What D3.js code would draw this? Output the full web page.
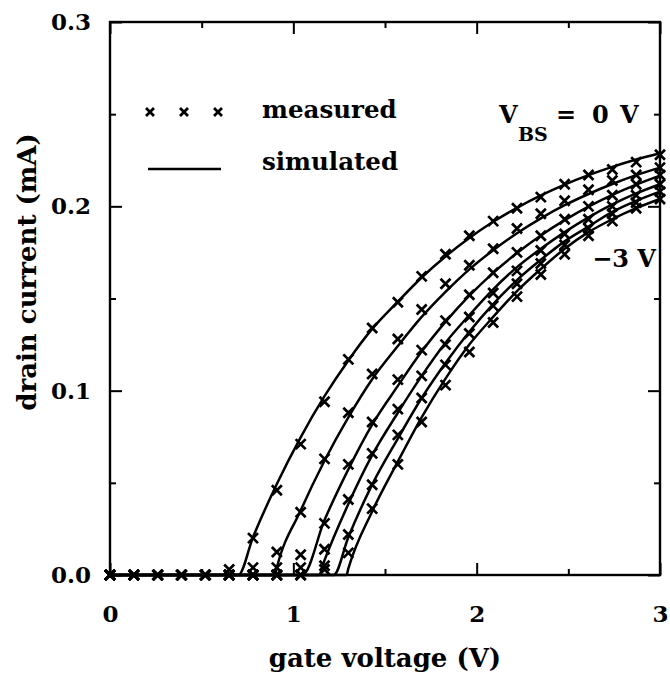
<!DOCTYPE html>
<html>
<head>
<meta charset="utf-8">
<script src="https://cdn.jsdelivr.net/npm/d3@7"></script>
<style>
  body { margin: 0; background: #fff; }
  text { font-family: "DejaVu Serif", serif; font-weight: bold; fill: #000; }
  .tick line { stroke: #000; stroke-width: 2; }
  .tick text { font-size: 23px; }
</style>
</head>
<body>
<svg width="670" height="691"></svg>
<script>
// gate voltage steps of the measurement (V)
const gateVoltage = [0, 0.13, 0.26, 0.39, 0.52, 0.65, 0.78, 0.91, 1.04, 1.17, 1.30, 1.43,
  1.57, 1.70, 1.83, 1.96, 2.09, 2.22, 2.35, 2.48, 2.61, 2.74, 2.87, 3.00];

// body bias of each curve, 0 V down to -3 V
const bodyBias = [0, -0.6, -1.2, -1.8, -2.4, -3.0];

// where each simulated curve leaves the axis (V)
const thresholds = [0.70, 0.90, 1.05, 1.14, 1.22, 1.29];

// measured drain current (mA)
const meas0 = [0, 0, 0, 0, 0, 0.003, 0.020, 0.046, 0.071, 0.094, 0.117, 0.134, 0.148, 0.162, 0.174, 0.184, 0.192, 0.199, 0.205, 0.212, 0.217, 0.220, 0.224, 0.228];
const meas1 = [0, 0, 0, 0, 0, 0, 0.004, 0.0125, 0.034, 0.063, 0.088, 0.109, 0.128, 0.144, 0.158, 0.168, 0.177, 0.188, 0.196, 0.203, 0.209, 0.214, 0.217, 0.221];
const meas2 = [0, 0, 0, 0, 0, 0, 0, 0.004, 0.011, 0.028, 0.060, 0.083, 0.106, 0.122, 0.138, 0.152, 0.164, 0.175, 0.184, 0.193, 0.200, 0.206, 0.212, 0.217];
const meas3 = [0, 0, 0, 0, 0, 0, 0, 0, 0.004, 0.014, 0.041, 0.066, 0.090, 0.108, 0.125, 0.140, 0.153, 0.165, 0.176, 0.185, 0.193, 0.200, 0.206, 0.212];
const meas4 = [0, 0, 0, 0, 0, 0, 0, 0, 0, 0.005, 0.022, 0.049, 0.076, 0.096, 0.114, 0.131, 0.146, 0.158, 0.169, 0.179, 0.188, 0.196, 0.202, 0.208];
const meas5 = [0, 0, 0, 0, 0, 0, 0, 0, 0, 0.003, 0.012, 0.036, 0.060, 0.083, 0.103, 0.121, 0.137, 0.151, 0.163, 0.174, 0.184, 0.192, 0.199, 0.204];

// simulated drain current (mA)
const sim0 = [0, 0, 0, 0, 0, 0, 0.0205, 0.0494, 0.0747, 0.0970, 0.1164, 0.1335, 0.1483, 0.1614, 0.1728, 0.1828, 0.1916, 0.1992, 0.2059, 0.2118, 0.2169, 0.2214, 0.2254, 0.2288];
const sim1 = [0, 0, 0, 0, 0, 0, 0, 0.0040, 0.0350, 0.0620, 0.0855, 0.1062, 0.1242, 0.1400, 0.1536, 0.1658, 0.1762, 0.1854, 0.1935, 0.2006, 0.2067, 0.2121, 0.2169, 0.2210];
const sim2 = [0, 0, 0, 0, 0, 0, 0, 0, 0, 0.0298, 0.0573, 0.0816, 0.1026, 0.1212, 0.1373, 0.1515, 0.1639, 0.1747, 0.1842, 0.1925, 0.1998, 0.2062, 0.2118, 0.2167];
const sim3 = [0, 0, 0, 0, 0, 0, 0, 0, 0, 0.0080, 0.0385, 0.0650, 0.0880, 0.1080, 0.1260, 0.1410, 0.1550, 0.1670, 0.1770, 0.1860, 0.1940, 0.2010, 0.2070, 0.2120];
const sim4 = [0, 0, 0, 0, 0, 0, 0, 0, 0, 0, 0.0205, 0.0490, 0.0740, 0.0960, 0.1150, 0.1320, 0.1470, 0.1600, 0.1710, 0.1810, 0.1890, 0.1970, 0.2030, 0.2080];
const sim5 = [0, 0, 0, 0, 0, 0, 0, 0, 0, 0, 0.0035, 0.0345, 0.0615, 0.0855, 0.1065, 0.1250, 0.1400, 0.1540, 0.1660, 0.1770, 0.1860, 0.1930, 0.1990, 0.2040];

const measured = [meas0, meas1, meas2, meas3, meas4, meas5];
const simulated = [sim0, sim1, sim2, sim3, sim4, sim5];

const xTicks = [0, 1, 2, 3];
const xMinorTicks = [0.5, 1.5, 2.5];
const yTicks = [0, 0.1, 0.2, 0.3];
const yMinorTicks = [0.05, 0.15, 0.25];

const svg = d3.select('svg');
const margin = { top: 22, right: 10, bottom: 116, left: 110 };
const width = +svg.attr('width') - margin.left - margin.right;
const height = +svg.attr('height') - margin.top - margin.bottom;

const x = d3.scaleLinear().domain([0, 3]).range([0, width]);
const y = d3.scaleLinear().domain([0, 0.3]).range([height, 0]);

const g = svg.append('g').attr('transform', `translate(${margin.left},${margin.top})`);

// axes, ticks pointing inward
g.append('g').attr('transform', `translate(0,${height})`)
  .call(d3.axisBottom(x).tickValues(xTicks).tickSize(-12).tickSizeOuter(0).tickPadding(31).tickFormat(d3.format('d')));
g.append('g').attr('transform', `translate(0,${height})`)
  .call(d3.axisBottom(x).tickValues(xMinorTicks).tickSize(-6).tickSizeOuter(0).tickFormat(''));
g.append('g')
  .call(d3.axisTop(x).tickValues(xTicks).tickSize(-12).tickSizeOuter(0).tickFormat(''));
g.append('g')
  .call(d3.axisTop(x).tickValues(xMinorTicks).tickSize(-6).tickSizeOuter(0).tickFormat(''));
g.append('g')
  .call(d3.axisLeft(y).tickValues(yTicks).tickSize(-12).tickSizeOuter(0).tickPadding(19).tickFormat(d3.format('.1f')));
g.append('g')
  .call(d3.axisLeft(y).tickValues(yMinorTicks).tickSize(-6).tickSizeOuter(0).tickFormat(''));
g.append('g').attr('transform', `translate(${width},0)`)
  .call(d3.axisRight(y).tickValues(yTicks).tickSize(-12).tickSizeOuter(0).tickFormat(''));
g.append('g').attr('transform', `translate(${width},0)`)
  .call(d3.axisRight(y).tickValues(yMinorTicks).tickSize(-6).tickSizeOuter(0).tickFormat(''));
g.selectAll('.domain').remove();

g.append('rect')
  .attr('width', width).attr('height', height)
  .attr('fill', 'none').attr('stroke', '#000').attr('stroke-width', 2.4);

// simulated curves
const lineGen = d3.line()
  .x(d => x(d[0]))
  .y(d => y(d[1]))
  .curve(d3.curveMonotoneX);

simulated.forEach((s, i) => {
  const pts = [[0, 0], [thresholds[i], 0]];
  gateVoltage.forEach((v, k) => { if (v > thresholds[i]) pts.push([v, s[k]]); });
  g.append('path')
    .attr('d', lineGen(pts))
    .attr('fill', 'none')
    .attr('stroke', '#000')
    .attr('stroke-width', 2.5);
});

// measured points as crosses
const cross = 'M-5,-5L5,5M-5,5L5,-5';
measured.forEach(m => {
  g.append('g').selectAll('path')
    .data(m)
    .join('path')
      .attr('transform', (d, k) => `translate(${x(gateVoltage[k])},${y(d)})`)
      .attr('d', cross)
      .attr('stroke', '#000')
      .attr('stroke-width', 2.7);
});

// axis labels
svg.append('text')
  .attr('x', margin.left + width / 2)
  .attr('y', 667)
  .attr('text-anchor', 'middle')
  .style('font-size', '26px')
  .text('gate voltage (V)');

svg.append('text')
  .attr('transform', 'translate(36,272) rotate(-90)')
  .attr('text-anchor', 'middle')
  .style('font-size', '26px')
  .text('drain current (mA)');

// legend
const legendMarks = [150, 184, 218];
svg.append('g').selectAll('path')
  .data(legendMarks)
  .join('path')
    .attr('transform', d => `translate(${d},112)`)
    .attr('d', 'M-4,-4L4,4M-4,4L4,-4')
    .attr('stroke', '#000')
    .attr('stroke-width', 2.7);
svg.append('text').attr('x', 262).attr('y', 118).style('font-size', '24.5px').text('measured');
svg.append('line')
  .attr('x1', 148).attr('x2', 221).attr('y1', 169).attr('y2', 169)
  .attr('stroke', '#000').attr('stroke-width', 2.4);
svg.append('text').attr('x', 262).attr('y', 170).style('font-size', '24.5px').text('simulated');

// curve annotations
const vbs = svg.append('text').attr('y', 123).style('font-size', '24px');
vbs.append('tspan').attr('x', 499).text('V');
vbs.append('tspan').attr('x', 518).attr('y', 141).style('font-size', '19px').text('BS');
vbs.append('tspan').attr('x', 556).attr('y', 123).text('=');
vbs.append('tspan').attr('x', 592).text(bodyBias[0]);
vbs.append('tspan').attr('x', 620).text('V');

svg.append('text')
  .attr('x', 656).attr('y', 267)
  .attr('text-anchor', 'end')
  .style('font-size', '24px')
  .text(`\u2212${Math.abs(bodyBias[5])} V`);
</script>
</body>
</html>
